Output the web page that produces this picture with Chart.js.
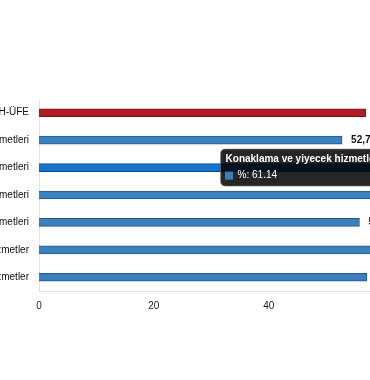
<!DOCTYPE html>
<html lang="tr">
<head>
<meta charset="utf-8">
<title>H-ÜFE</title>
<script src="https://cdn.jsdelivr.net/npm/chart.js@4.4.1/dist/chart.umd.min.js"></script>
<style>
  html, body { margin: 0; padding: 0; background: #fff; overflow: hidden; }
  body { width: 370px; height: 380px; position: relative; }
  #wrap { position: absolute; left: -200px; top: 0; width: 691px; height: 380px; }
</style>
</head>
<body>
<div id="wrap"><canvas id="chart"></canvas></div>
<script>
const categories = [
  "H-ÜFE",
  "Ulaştırma ve depolama hizmetleri",
  "Konaklama ve yiyecek hizmetleri",
  "Bilgi ve iletişim hizmetleri",
  "Gayrimenkul hizmetleri",
  "Mesleki, bilimsel ve teknik hizmetler",
  "İdari ve destek hizmetler"
];
const changePct = [56.9, 52.78, 61.14, 59.6, 55.8, 62.4, 57.1];
const xTickValues = [0, 20, 40, 60];
const hoveredIndex = 2;

const FONT = "'Liberation Sans', Arial, sans-serif";
const BLUE = "rgb(58,127,190)";
const BLUE_EDGE = "rgb(38,88,138)";
const RED = "rgb(176,28,36)";
const RED_EDGE = "rgb(128,18,24)";

Chart.Tooltip.positioners.barCenter = function (items) {
  if (!items.length) return false;
  const p = items[0].element.getCenterPoint();
  return { x: p.x, y: p.y };
};

// value after each bar, Turkish decimal comma
const valueLabels = {
  id: "valueLabels",
  afterDatasetsDraw(chart) {
    const ctx = chart.ctx;
    const meta = chart.getDatasetMeta(0);
    ctx.save();
    ctx.font = "bold 10px " + FONT;
    ctx.fillStyle = "#111";
    ctx.textAlign = "left";
    ctx.textBaseline = "middle";
    meta.data.forEach((bar, i) => {
      const txt = changePct[i].toLocaleString("tr-TR", { minimumFractionDigits: 2, maximumFractionDigits: 2 });
      ctx.fillText(txt, bar.x + 9, bar.y);
    });
    ctx.restore();
  }
};

const chart = new Chart(document.getElementById("chart"), {
  type: "bar",
  data: {
    labels: categories,
    datasets: [
      {
        label: "%",
        data: changePct,
        backgroundColor: categories.map((c, i) => (i === 0 ? RED : BLUE)),
        borderColor: categories.map((c, i) => (i === 0 ? RED_EDGE : BLUE_EDGE)),
        borderWidth: 1,
        barThickness: 8
      }
    ]
  },
  options: {
    indexAxis: "y",
    responsive: true,
    maintainAspectRatio: false,
    animation: false,
    layout: { padding: { top: 99, bottom: 69, left: 0, right: 50 } },
    plugins: {
      legend: { display: false },
      tooltip: {
        position: "barCenter",
        xAlign: "left",
        yAlign: "center",
        caretSize: 0,
        caretPadding: 6,
        cornerRadius: 5,
        padding: { x: 5, y: 4.5 },
        titleFont: { family: FONT, size: 10, weight: "bold" },
        bodyFont: { family: FONT, size: 10 },
        titleMarginBottom: 4,
        boxWidth: 7,
        boxHeight: 7,
        boxPadding: 3,
        multiKeyBackground: BLUE,
        backgroundColor: "rgba(0,0,0,0.85)",
        borderColor: "rgba(120,120,120,0.6)",
        borderWidth: 1,
        callbacks: {
          labelColor: () => ({ borderColor: BLUE, backgroundColor: BLUE, borderWidth: 1 })
        }
      }
    },
    scales: {
      x: {
        min: 0,
        max: 70,
        grid: { display: false, drawTicks: false },
        border: { display: true },
        afterBuildTicks: (axis) => {
          axis.ticks = xTickValues.map((v) => ({ value: v }));
        },
        afterFit: (scale) => { scale.height = 20; },
        ticks: { padding: 9, color: "#222", font: { family: FONT, size: 10 } }
      },
      y: {
        grid: { display: false, drawTicks: false },
        border: { display: true },
        afterFit: (scale) => { scale.width = 239; },
        ticks: { padding: 10, color: "#111", font: { family: FONT, size: 10 } }
      }
    }
  },
  plugins: [valueLabels]
});

const active = [{ datasetIndex: 0, index: hoveredIndex }];
chart.setActiveElements(active);
chart.tooltip.setActiveElements(active, { x: 0, y: 0 });
chart.update();
</script>
</body>
</html>
